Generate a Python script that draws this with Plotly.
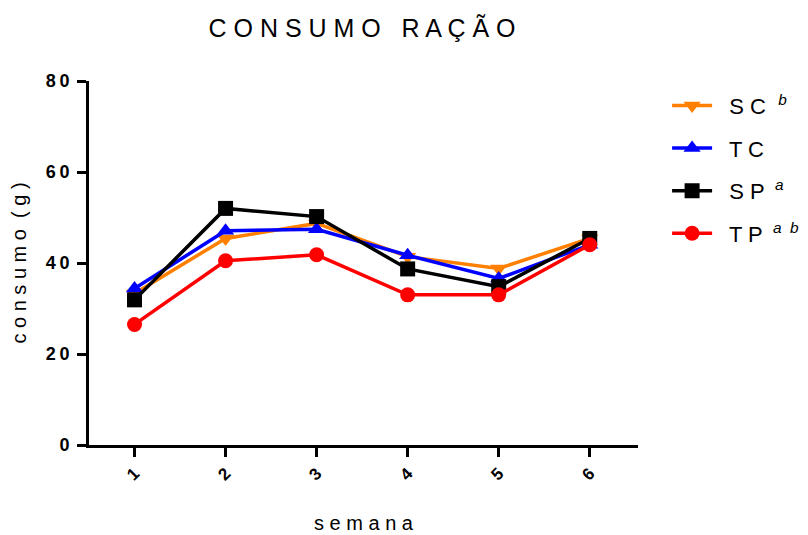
import plotly.graph_objects as go

semana = [1, 2, 3, 4, 5, 6]
sc = [33.3, 45.4, 48.7, 41.4, 38.8, 45.4]
tc = [34.4, 47.1, 47.4, 41.7, 36.6, 44.0]
sp = [31.9, 52.0, 50.2, 38.7, 34.8, 45.4]
tp = [26.5, 40.5, 41.8, 33.0, 33.0, 44.0]
y_ticks = [0, 20, 40, 60, 80]

series = [
    ("  S C  <sup><i>b</i></sup>", sc, "#FF8000", "triangle-down"),
    ("  T C", tc, "#0000FF", "triangle-up"),
    ("  S P \u2009<sup><i>a</i></sup>", sp, "#000000", "square"),
    ("  T P \u2009<sup><i>a  b</i></sup>", tp, "#FF0000", "circle"),
]

fig = go.Figure()
for i, (name, vals, col, sym) in enumerate(series):
    fig.add_trace(go.Scatter(
        x=semana, y=vals, name=name, mode="lines+markers",
        line=dict(color=col, width=3.5),
        marker=dict(color=col, symbol=sym, size=15),
        legendgroup=str(i),
    ))

fig.update_layout(
    width=800, height=527,
    paper_bgcolor="white", plot_bgcolor="white",
    margin=dict(l=81, r=170, t=73, b=90, autoexpand=False),
    font=dict(family="Liberation Sans, Arial", color="black"),
    title=dict(text="C O N S U M O   R A Ç Ã O", x=0.4425, xanchor="center",
               y=0.962, yanchor="middle", font=dict(size=25)),
    showlegend=True,
    legend=dict(x=1.053, y=0.99, xanchor="left", yanchor="top",
                font=dict(size=22), tracegroupgap=11, itemwidth=40,
                bgcolor="rgba(0,0,0,0)"),
)

fig.update_xaxes(
    range=[0.5, 6.53], tickvals=semana, ticktext=["<b>%d</b>" % v for v in semana],
    tickangle=-45, showline=True, linecolor="black", linewidth=3,
    ticks="outside", ticklen=9, tickwidth=3, tickcolor="black",
    showgrid=False, zeroline=False, automargin=False,
    tickfont=dict(size=17),
    title=dict(text="s e m a n a", font=dict(size=20), standoff=33),
)
fig.update_yaxes(
    range=[0, 80], tickvals=y_ticks,
    ticktext=["<b>%s</b>" % "\u2009".join(str(v)) for v in y_ticks],
    showline=True, linecolor="black", linewidth=3,
    ticks="outside", ticklen=9, tickwidth=3, tickcolor="black",
    showgrid=False, zeroline=False, automargin=False,
    tickfont=dict(size=18), ticklabelstandoff=4,
    title=dict(text="c o n s u m o  ( g )", font=dict(size=20), standoff=30),
)

fig.write_html("out.html")
